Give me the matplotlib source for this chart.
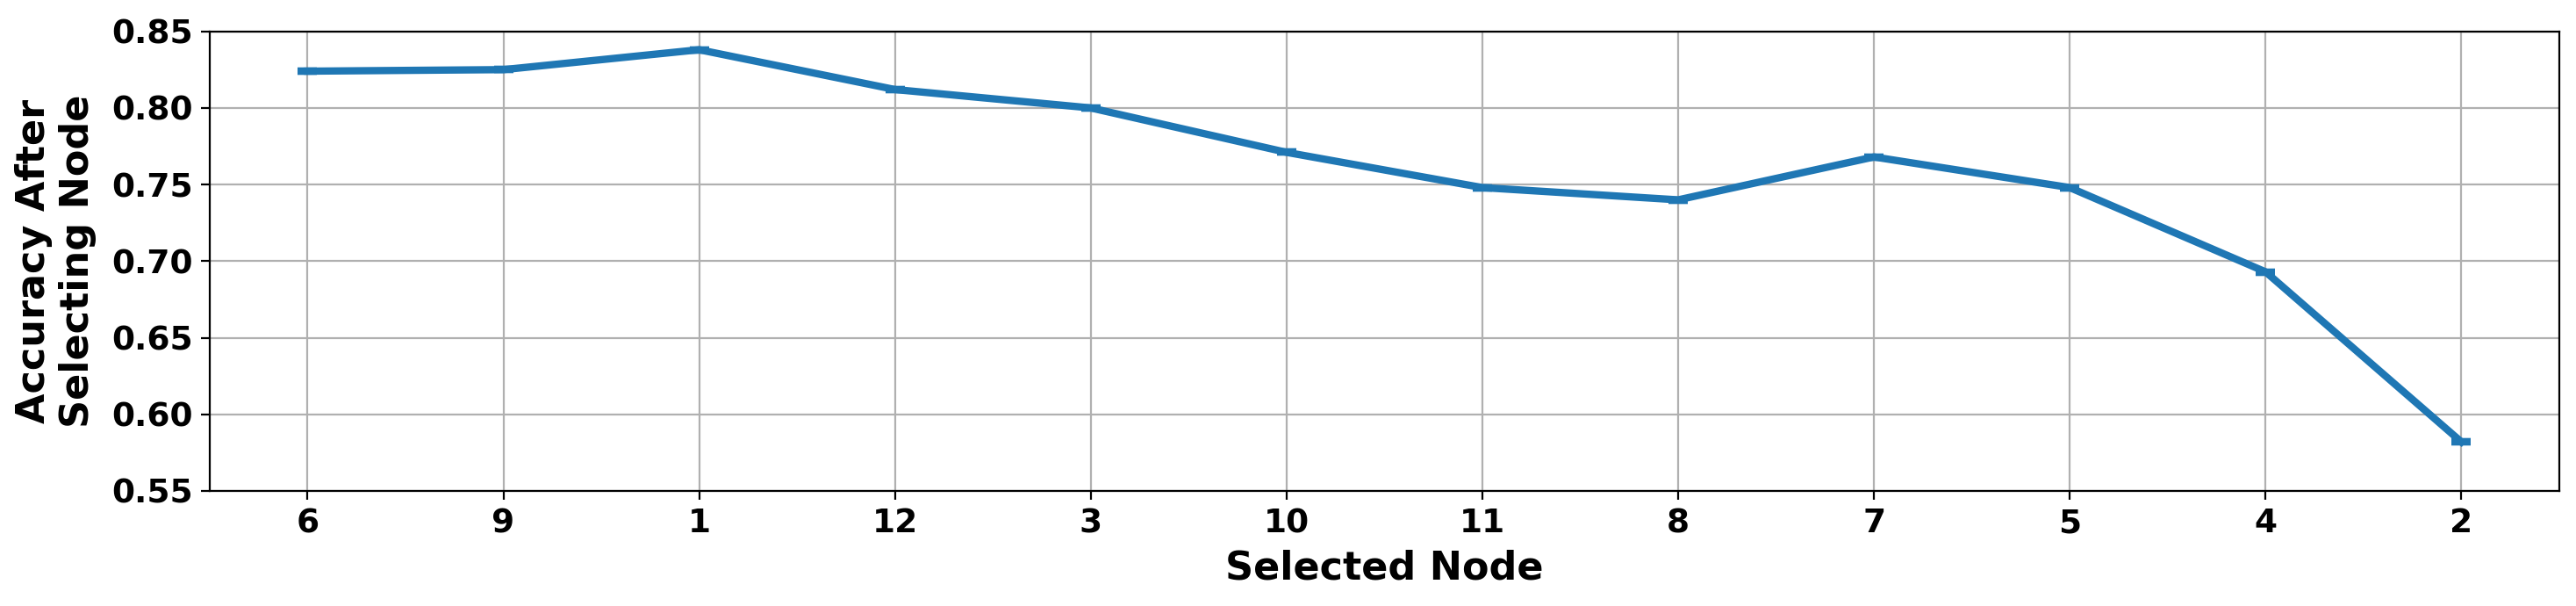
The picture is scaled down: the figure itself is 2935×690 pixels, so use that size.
import matplotlib
matplotlib.use("Agg")
import matplotlib.pyplot as plt

nodes = ["6", "9", "1", "12", "3", "10", "11", "8", "7", "5", "4", "2"]
accuracy = [0.824, 0.825, 0.838, 0.812, 0.800, 0.771, 0.748, 0.740, 0.768, 0.748, 0.693, 0.582]
errors = [0.0, 0.0, 0.0, 0.0, 0.0, 0.0, 0.0, 0.0, 0.0, 0.0, 0.0, 0.0]

fig = plt.figure(figsize=(14.675, 3.45), dpi=200)
ax = fig.add_axes([0.0814, 0.1899, 0.9935 - 0.0814, 0.9483 - 0.1899])

x = list(range(len(nodes)))
ax.errorbar(x, accuracy, yerr=errors, color="#1f77b4", linewidth=3,
            capsize=4, capthick=3, zorder=3)

ax.set_xticks(x)
ax.set_xticklabels(nodes)
ax.set_xlim(-0.5, len(nodes) - 0.5)
ax.set_ylim(0.55, 0.85)
ax.set_yticks([0.55, 0.60, 0.65, 0.70, 0.75, 0.80, 0.85])
ax.grid(True, color="#b0b0b0", linewidth=0.8)
ax.set_axisbelow(True)

for lab in ax.get_xticklabels() + ax.get_yticklabels():
    lab.set_fontsize(13.5)
    lab.set_fontweight("bold")

ax.set_xlabel("Selected Node", fontsize=16, fontweight="bold", labelpad=4)
ax.set_ylabel("Accuracy After\nSelecting Node", fontsize=16, fontweight="bold", labelpad=6)

fig.savefig("out.png", dpi=200)
